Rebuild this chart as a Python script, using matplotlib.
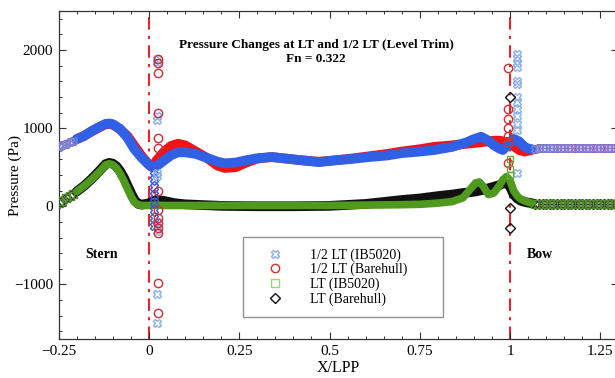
import numpy as np
import matplotlib
matplotlib.use('Agg')
import matplotlib.pyplot as plt
from matplotlib.lines import Line2D
from matplotlib.ticker import MultipleLocator, FuncFormatter

# pressure along the hull, X/LPP vs Pa
X_HALF = [-0.25, -0.24, -0.23, -0.22, -0.21, -0.20, -0.18, -0.16, -0.14, -0.12,
          -0.11, -0.10, -0.08, -0.06, -0.04, -0.02, 0.0, 0.01, 0.02, 0.04,
          0.06, 0.08, 0.10, 0.13, 0.16, 0.19, 0.21, 0.24, 0.27, 0.30,
          0.34, 0.38, 0.42, 0.47, 0.52, 0.56, 0.61, 0.66, 0.70, 0.75,
          0.79, 0.84, 0.88, 0.90, 0.92, 0.94, 0.955, 0.97, 0.98, 0.995,
          1.01, 1.025, 1.04, 1.05, 1.06, 1.07, 1.08, 1.09, 1.10, 1.11,
          1.12, 1.13, 1.14, 1.15, 1.16, 1.17, 1.18, 1.19, 1.20, 1.21,
          1.22, 1.23, 1.24, 1.25, 1.26, 1.27, 1.28, 1.29, 1.30]
HALF_IB = [760, 780, 800, 820, 840, 860, 900, 960, 1010, 1055,
           1060, 1050, 990, 880, 730, 620, 530, 500, 510, 580,
           650, 690, 690, 670, 620, 570, 550, 560, 590, 615,
           630, 610, 590, 565, 590, 605, 630, 650, 680, 700,
           720, 760, 820, 860, 890, 840, 780, 740, 720, 790,
           865, 830, 760, 740, 730, 735, 740, 740, 740, 740,
           740, 740, 740, 740, 740, 740, 740, 740, 740, 740,
           740, 740, 740, 740, 740, 740, 740, 740, 740]
HALF_BARE = [760, 780, 800, 820, 840, 860, 900, 955, 1005, 1050,
             1055, 1045, 985, 900, 770, 640, 530, 500, 580, 690,
             770, 800, 780, 700, 620, 520, 490, 500, 560, 610,
             630, 610, 590, 570, 590, 610, 640, 670, 700, 730,
             760, 780, 800, 810, 820, 830, 840, 840, 830, 820,
             770, 720, 700, 710, 720, 735, 740, 740, 740, 740,
             740, 740, 740, 740, 740, 740, 740, 740, 740, 740,
             740, 740, 740, 740, 740, 740, 740, 740, 740]

X_LT = [-0.25, -0.24, -0.23, -0.22, -0.21, -0.20, -0.18, -0.16, -0.14, -0.12,
        -0.11, -0.10, -0.09, -0.08, -0.07, -0.06, -0.05, -0.04, -0.03, -0.02,
        0.0, 0.02, 0.04, 0.07, 0.10, 0.20, 0.30, 0.40, 0.50, 0.60,
        0.70, 0.75, 0.80, 0.84, 0.87, 0.89, 0.905, 0.915, 0.925, 0.94,
        0.955, 0.97, 0.98, 0.99, 1.0, 1.01, 1.02, 1.03, 1.045, 1.06,
        1.07, 1.08, 1.09, 1.10, 1.11, 1.12, 1.13, 1.14, 1.15, 1.16,
        1.17, 1.18, 1.19, 1.20, 1.21, 1.22, 1.23, 1.24, 1.25, 1.26,
        1.27, 1.28, 1.29, 1.30]
LT_IB = [40, 70, 100, 130, 160, 190, 260, 340, 430, 530,
         545, 530, 490, 420, 330, 230, 130, 50, 20, 10,
         10, 15, 10, 10, 10, 10, 10, 10, 10, 15,
         20, 25, 40, 60, 110, 220, 300, 310, 260, 150,
         170, 260, 340, 380, 330, 200, 130, 90, 60, 40,
         35, 30, 30, 30, 30, 30, 30, 30, 30, 30,
         30, 30, 30, 30, 30, 30, 30, 30, 30, 30,
         30, 30, 30, 30]
LT_BARE = [40, 70, 100, 130, 160, 190, 260, 345, 440, 540,
           555, 545, 510, 450, 370, 270, 170, 80, 30, 20,
           40, 80, 70, 40, 25, 5, 0, 0, 5, 30,
           80, 100, 130, 150, 170, 180, 190, 200, 210, 230,
           250, 270, 290, 300, 250, 150, 100, 70, 50, 40,
           35, 30, 30, 30, 30, 30, 30, 30, 30, 30,
           30, 30, 30, 30, 30, 30, 30, 30, 30, 30,
           30, 30, 30, 30]

# scattered probe points near stern (x ~ 0.02) and bow (x ~ 1.0)
STERN_RED = [1890, 1830, 1710, 1200, 870, 740, 200, -50, -150, -220, -280, -340, -980, -1360]
STERN_BLUE = [1880, 1850, 1150, 1100, 430, 390, -200, -260, -320, -1120, -1490]
STERN_BLUE_DARK = [450, 350, 250, 150, 50, -50, -150, -250]
BOW_RED = [1770, 1250, 1120, 1000, 900, 820, 560]
BOW_BLUE = [1950, 1900, 1840, 1780, 1600, 1560, 1400, 1340, 1250, 1150, 1050, 980, 430]
BOW_GREEN = [600, 480, 400]
BOW_BLACK = [1400, -20, -280]

plt.rcParams['font.family'] = 'serif'
plt.rcParams['font.serif'] = ['Liberation Serif', 'DejaVu Serif']

fig = plt.figure(figsize=(6.15, 3.78), dpi=100)
ax = fig.add_axes([0.0955, 0.103, 0.910, 0.868])


def draw_series(xs, ys, band_color, lw, marker, mec, z):
    x = np.array(xs)
    y = np.array(ys)
    core = (x >= -0.205) & (x <= 1.065)
    ax.plot(x[core], y[core], color=band_color, lw=lw, solid_capstyle='round',
            solid_joinstyle='round', zorder=z)
    ax.plot(x[~core], y[~core], ls='none', marker=marker, mfc='none', mec=mec,
            ms=5.5, mew=1.0, zorder=z)


draw_series(X_HALF, HALF_BARE, '#f01414', 7, 'o', '#b8407a', 2)
draw_series(X_HALF, HALF_IB, '#3060e6', 7, 'X', '#7a86d8', 3)
draw_series(X_LT, LT_BARE, '#111111', 7, 'D', '#202020', 2)
draw_series(X_LT, LT_IB, '#4f9a1c', 5.5, 's', '#4f8a2a', 3)

ax.plot([0.015] * len(STERN_BLUE_DARK), STERN_BLUE_DARK, ls='none', marker='X',
        mfc='none', mec='#3b55d8', ms=6, zorder=4)
ax.plot([0.022] * len(STERN_BLUE), STERN_BLUE, ls='none', marker='X',
        mfc='none', mec='#8cb2ea', ms=6, zorder=4)
ax.plot([0.025] * len(STERN_RED), STERN_RED, ls='none', marker='o',
        mfc='none', mec='#c8303a', ms=6, zorder=5)
ax.plot([1.02] * len(BOW_BLUE), BOW_BLUE, ls='none', marker='X',
        mfc='none', mec='#8cb2ea', ms=6, zorder=4)
ax.plot([0.995] * len(BOW_RED), BOW_RED, ls='none', marker='o',
        mfc='none', mec='#d03030', ms=6, zorder=5)
ax.plot([1.0] * len(BOW_GREEN), BOW_GREEN, ls='none', marker='s',
        mfc='none', mec='#6aaa3a', ms=5, zorder=5)
ax.plot([1.0] * len(BOW_BLACK), BOW_BLACK, ls='none', marker='D',
        mfc='none', mec='#111111', ms=5, zorder=5)

for xv in (0.0, 1.0):
    ax.axvline(xv, color='#e0262e', lw=1.5, ls=(0, (6, 3, 1.5, 3)), zorder=1.5)

ax.set_xlim(-0.25, 1.30)
ax.set_ylim(-1700, 2500)
ax.xaxis.set_major_locator(MultipleLocator(0.25))
ax.xaxis.set_minor_locator(MultipleLocator(0.05))
ax.yaxis.set_major_locator(MultipleLocator(1000))
ax.yaxis.set_minor_locator(MultipleLocator(200))
fmt = FuncFormatter(lambda v, p: f'{v:g}'.replace('-', '\u2212'))
ax.xaxis.set_major_formatter(fmt)
ax.yaxis.set_major_formatter(fmt)
ax.tick_params(which='both', direction='in', top=True, right=True,
               color='#333333', labelsize=11)
ax.tick_params(which='major', length=5, width=0.8, pad=4)
ax.tick_params(which='minor', length=2.5, width=0.7)
for s in ax.spines.values():
    s.set_color('#333333')
    s.set_linewidth(0.9)

ax.set_xlabel('X/LPP', fontsize=11.5, labelpad=2)
ax.set_ylabel('Pressure (Pa)', fontsize=11)
ax.yaxis.set_label_coords(-0.066, 0.5)

ax.text(0.46, 0.875, 'Pressure Changes at LT and 1/2 LT (Level Trim)\nFn = 0.322',
        transform=ax.transAxes, ha='center', va='center', fontsize=9.5,
        fontweight='bold', linespacing=1.15)
ax.text(0.077, 0.259, 'Stern', transform=ax.transAxes, ha='center', va='center',
        fontsize=10, fontweight='bold')
ax.text(0.86, 0.259, 'Bow', transform=ax.transAxes, ha='center', va='center',
        fontsize=10, fontweight='bold')

handles = [
    Line2D([], [], ls='none', marker='X', mfc='none', mec='#8cb2ea', ms=6),
    Line2D([], [], ls='none', marker='o', mfc='none', mec='#d03030', ms=6),
    Line2D([], [], ls='none', marker='s', mfc='none', mec='#a0d080', ms=6),
    Line2D([], [], ls='none', marker='D', mfc='none', mec='#111111', ms=5.5),
]
labels = ['1/2 LT (IB5020)', '1/2 LT (Barehull)', 'LT (IB5020)', 'LT (Barehull)']
leg = ax.legend(handles, labels, loc='upper left', mode='expand',
                bbox_to_anchor=(0.329, 0.058, 0.357, 0.253), borderaxespad=0,
                fontsize=10, frameon=True, fancybox=False, handlelength=3.0,
                handletextpad=1.0, borderpad=0.8, labelspacing=0.1)
leg.get_frame().set_edgecolor('#777777')
leg.get_frame().set_linewidth(1.0)

fig.savefig('out.png', dpi=100)
